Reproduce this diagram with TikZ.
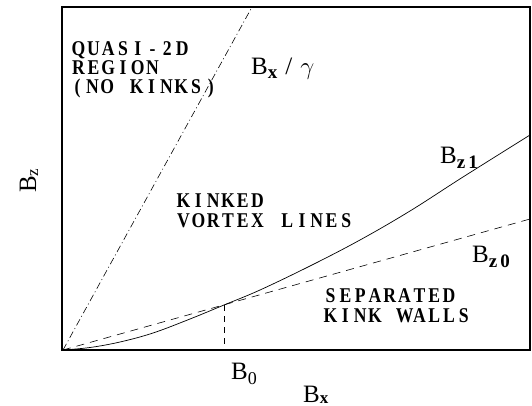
\documentclass[tikz,border=0pt]{standalone}
\usepackage{fontspec}
\setmainfont{Liberation Serif}
\newcommand\monostr[1]{\monostep#1\relax}
\def\monostep#1{\ifx#1\relax\else\makebox[14.8pt][c]{\scalebox{0.84}[1]{#1}}\expandafter\monostep\fi}
\begin{document}
\begin{tikzpicture}[x=1pt,y=-1pt,
  regionlbl/.style={font=\bfseries\fontsize{21}{21}\selectfont, anchor=base west, inner sep=0pt},
  blbl/.style={font=\fontsize{25}{25}\selectfont, anchor=base west, inner sep=0pt},
  frameline/.style={line width=1.1pt},
  curveline/.style={line width=0.7pt},
  dashdotline/.style={line width=0.6pt, dash pattern=on 7pt off 3pt on 1pt off 3pt},
  dashline/.style={line width=0.6pt, dash pattern=on 8pt off 6pt}]
\useasboundingbox (0,0) rectangle (532,406);
% frame
\coordinate (O) at (63,350);
\coordinate (TL) at (62,7);
\coordinate (BR) at (530,350);
\draw[frameline] (TL) rectangle (BR);
\draw[line width=1.8pt] (62,7) -- (62,350);
% lines
\coordinate (G) at (252,7);
\coordinate (Zend) at (530,219);
\coordinate (P) at (224,305);
\draw[dashdotline] (O) -- (G);
\draw[dashline] (O) -- (Zend);
\draw[curveline] plot[smooth, tension=0.6] coordinates {(63,350) (90,347.5) (120,342) (153,333) (190,319) (224,305) (260,290) (310,266) (360,240) (410,211) (463,177) (530,135)};
\draw[dashline, dash pattern=on 6pt off 5pt] (P) -- (P |- O);
% region labels
\node[regionlbl] (q1) at (71,56) {\monostr{QUASI-2D}};
\node[regionlbl] (q2) at (71,75) {\monostr{REGION}};
\node[regionlbl] (q3) at (70,94) {\monostr{(NO~KINKS)}};
\node[regionlbl] (k1) at (176,207) {\monostr{KINKED}};
\node[regionlbl] (k2) at (176,227) {\monostr{VORTEX~LINES}};
\node[regionlbl] (s1) at (323,302) {\monostr{SEPARATED}};
\node[regionlbl] (s2) at (323,322) {\monostr{KINK~WALLS}};
% B labels
\node[blbl] (bg) at (251,75) {B\raisebox{-4pt}{\fontsize{19}{19}\selectfont\bfseries x}\hspace{8pt}/\hspace{8pt}$\gamma$};
\node[blbl] (b1) at (440,164) {B\raisebox{-5pt}{\fontsize{19}{19}\selectfont\bfseries z\hspace{3pt}1}};
\node[blbl] (b0z) at (472,262) {B\raisebox{-5pt}{\fontsize{19}{19}\selectfont\bfseries z\hspace{3pt}0}};
\node[blbl] (b0) at (231,379) {B\raisebox{-5pt}{\fontsize{18}{18}\selectfont 0}};
\node[blbl] (bx) at (303,402) {B\raisebox{-1pt}{\fontsize{17}{17}\selectfont\bfseries x}};
\node[blbl, rotate=90] (bz) at (36,193) {B\raisebox{-2pt}{\fontsize{17}{17}\selectfont z}};
\end{tikzpicture}
\end{document}
